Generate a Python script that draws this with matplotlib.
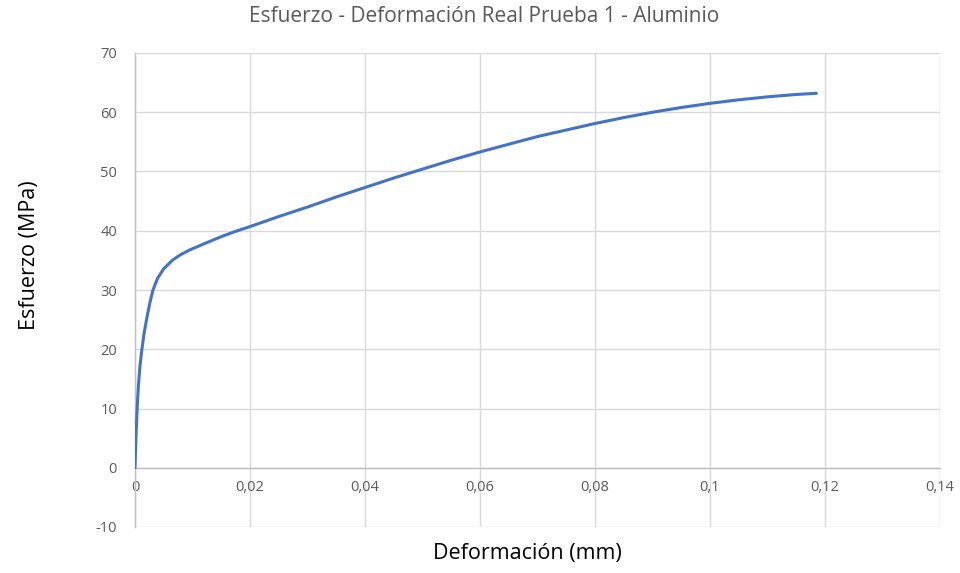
import matplotlib.pyplot as plt
from matplotlib.ticker import FuncFormatter

# Curva esfuerzo - deformación real
deformacion = [0, 0.0001, 0.0002, 0.0004, 0.0006, 0.0009, 0.0012, 0.0016, 0.0021,
               0.0026, 0.0031, 0.0036, 0.004, 0.005, 0.0066, 0.008, 0.0096,
               0.0125, 0.015, 0.0175, 0.02, 0.025, 0.03, 0.035, 0.04, 0.045,
               0.05, 0.055, 0.06, 0.065, 0.07, 0.075, 0.08, 0.085, 0.09, 0.095,
               0.1, 0.105, 0.11, 0.115, 0.1185]
esfuerzo = [0, 3, 6, 10.5, 14, 17.5, 20, 22.8, 25.5,
            27.9, 29.9, 31.2, 32.1, 33.6, 35.1, 36.0, 36.8,
            38.0, 39.0, 39.9, 40.7, 42.4, 44.0, 45.7, 47.3, 48.9,
            50.4, 51.9, 53.3, 54.6, 55.9, 57.0, 58.1, 59.1, 60.0, 60.8,
            61.5, 62.1, 62.6, 63.0, 63.2]

x_ticks = [0, 0.02, 0.04, 0.06, 0.08, 0.1, 0.12, 0.14]
y_ticks = [-10, 0, 10, 20, 30, 40, 50, 60, 70]

plt.rcParams['font.family'] = ['Open Sans', 'DejaVu Sans']

fig = plt.figure(figsize=(9.6, 5.73), dpi=100)
ax = fig.add_axes([135/960, 1 - 527/573, (940-135)/960, (527-53)/573])

ax.plot(deformacion, esfuerzo, color='#4472C4', linewidth=2.2, solid_capstyle='round', zorder=3)

ax.set_xlim(0, 0.14)
ax.set_ylim(-10, 70)
ax.set_xticks(x_ticks)
ax.set_yticks(y_ticks)
ax.grid(True, color='#D9D9D9', linewidth=1)
ax.set_axisbelow(True)

def coma(v, pos):
    return ('%g' % round(v, 4)).replace('.', ',')

ax.xaxis.set_major_formatter(FuncFormatter(coma))
ax.yaxis.set_major_formatter(FuncFormatter(coma))

for s in ['top', 'right']:
    ax.spines[s].set_visible(False)
ax.spines['bottom'].set_position(('data', 0))
ax.spines['left'].set_position(('data', 0))
ax.spines['bottom'].set_color('#BFBFBF')
ax.spines['left'].set_color('#BFBFBF')
ax.spines['bottom'].set_linewidth(1)
ax.spines['left'].set_linewidth(1)

ax.tick_params(axis='both', length=0, labelsize=10.5, colors='#595959', pad=9)
ax.tick_params(axis='y', pad=13)

fig.text(484/960, 1 - 17/573, 'Esfuerzo - Deformación Real Prueba 1 - Aluminio',
         ha='center', va='center', fontsize=15, color='#595959')
fig.text(527/960, 1 - 553/573, 'Deformación (mm)', ha='center', va='center',
         fontsize=15.5, color='#000000')
fig.text(30/960, 1 - 255/573, 'Esfuerzo (MPa)', ha='center', va='center',
         rotation=90, fontsize=15.5, color='#000000')

fig.savefig('out.png', dpi=100)
